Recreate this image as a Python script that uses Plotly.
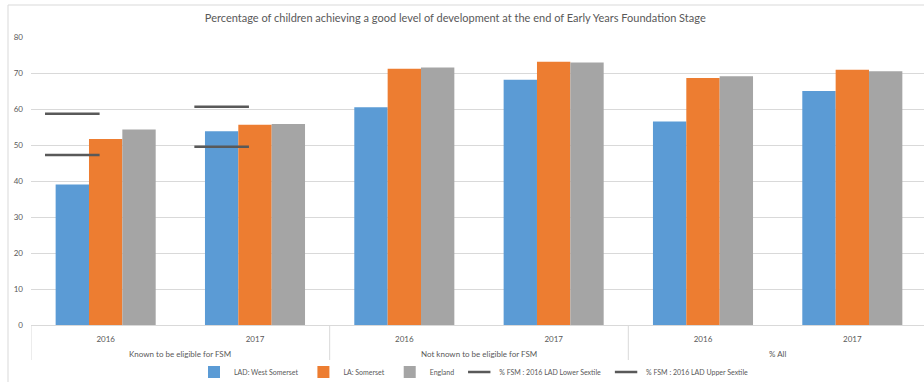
import plotly.graph_objects as go

# Categories (group / year)
groups = ["Known to be eligible for FSM", "Known to be eligible for FSM",
          "Not known to be eligible for FSM", "Not known to be eligible for FSM",
          "% All", "% All"]
years = ["2016", "2017", "2016", "2017", "2016", "2017"]

# Series values (% achieving a good level of development)
lad_west_somerset = [39.0, 53.8, 60.5, 68.1, 56.5, 65.0]
la_somerset = [51.7, 55.6, 71.2, 73.1, 68.6, 70.9]
england = [54.3, 55.8, 71.5, 72.9, 69.1, 70.5]

# FSM sextile reference values (only for the FSM-eligible group)
fsm_lower_sextile = [47.2, 49.5, None, None, None, None]
fsm_upper_sextile = [58.7, 60.6, None, None, None, None]

BLUE = "#5B9BD5"
ORANGE = "#ED7D31"
GREY = "#A5A5A5"
DASH = "#595959"
TEXT = "#595959"
LINE = "#D9D9D9"
FONT = "Lato, 'Open Sans', sans-serif"

BARGAP = 0.33
N_BARS = 3
X_RANGE = [-0.5, 5.48]

W, H = 924, 382
ML, MR, MT, MB = 31, 0, 37, 57

cat_keys = [f"{g} | {y}" for g, y in zip(groups, years)]

fig = go.Figure()
for name, vals, col in [("LAD: West Somerset", lad_west_somerset, BLUE),
                        ("LA: Somerset", la_somerset, ORANGE),
                        ("England", england, GREY)]:
    fig.add_trace(go.Bar(x=cat_keys, y=vals, name=name,
                         marker=dict(color=col, line=dict(width=0))))

# Sextile markers sit over the first bar of each category slot
slot = (1 - BARGAP) / N_BARS
first_bar_offset = -slot
xi = [i + first_bar_offset for i in range(len(years))]
for name, vals in [("% FSM : 2016 LAD Lower Sextile", fsm_lower_sextile),
                   ("% FSM : 2016 LAD Upper Sextile", fsm_upper_sextile)]:
    fig.add_trace(go.Scatter(x=xi, y=vals, name=name, mode="markers",
                             xaxis="x2", yaxis="y",
                             marker=dict(symbol="line-ew", size=39,
                                         line=dict(width=2.5, color=DASH),
                                         color=DASH)))

plot_w = W - ML - MR
plot_h = H - MT - MB
def px_x(p):
    return (p - ML) / plot_w
def px_y(p):
    return (H - MB - p) / plot_h

shapes = [
    # Chart-area border (left and top edges)
    dict(type="line", xref="paper", yref="paper", x0=px_x(8), x1=px_x(8),
         y0=px_y(5), y1=px_y(400), line=dict(color=LINE, width=1), layer="below"),
    dict(type="line", xref="paper", yref="paper", x0=px_x(8), x1=px_x(940),
         y0=px_y(5), y1=px_y(5), line=dict(color=LINE, width=1), layer="below"),
]

# Group dividers and group labels below the year labels
group_names = list(dict.fromkeys(groups))
annotations = []
for gname in group_names:
    idx = [i for i, g in enumerate(groups) if g == gname]
    left, right = idx[0] - 0.5, idx[-1] + 0.5
    shapes.append(dict(type="line", xref="x2", yref="paper", x0=left, x1=left,
                       y0=0, y1=px_y(360), line=dict(color=LINE, width=1)))
    annotations.append(dict(text=gname, xref="x2", yref="paper",
                            x=(left + right) / 2, y=px_y(354),
                            xanchor="center", yanchor="middle", showarrow=False,
                            font=dict(size=8, color=TEXT, family=FONT)))

fig.update_layout(
    width=W, height=H,
    margin=dict(l=ML, r=MR, t=MT, b=MB, autoexpand=False),
    paper_bgcolor="white", plot_bgcolor="white",
    barmode="group", bargap=BARGAP, bargroupgap=0,
    font=dict(family=FONT, color=TEXT, size=8),
    title=dict(text="Percentage of children achieving a good level of development at the end of Early Years Foundation Stage",
               x=px_x(471), xanchor="center", y=1 - 18 / H, yanchor="middle",
               font=dict(size=11, color=TEXT, family=FONT)),
    xaxis=dict(type="category", range=X_RANGE, showgrid=False,
               tickmode="array", tickvals=cat_keys, ticktext=years,
               showline=True, linecolor=LINE, linewidth=1, ticks="",
               ticklabelstandoff=6,
               tickfont=dict(size=8, color=TEXT), automargin=False),
    xaxis2=dict(overlaying="x", range=X_RANGE, visible=False, anchor="y"),
    yaxis=dict(range=[0, 80], dtick=10, showgrid=True, gridcolor=LINE,
               gridwidth=1, zeroline=False, showline=False, ticks="",
               ticklabelstandoff=7, tickfont=dict(size=8, color=TEXT),
               automargin=False),
    legend=dict(orientation="h", x=px_x(474), xanchor="center",
                y=px_y(372), yanchor="middle",
                font=dict(size=7, color=TEXT, family=FONT),
                bgcolor="rgba(0,0,0,0)"),
    shapes=shapes,
    annotations=annotations,
)

fig.write_html("out.html")
